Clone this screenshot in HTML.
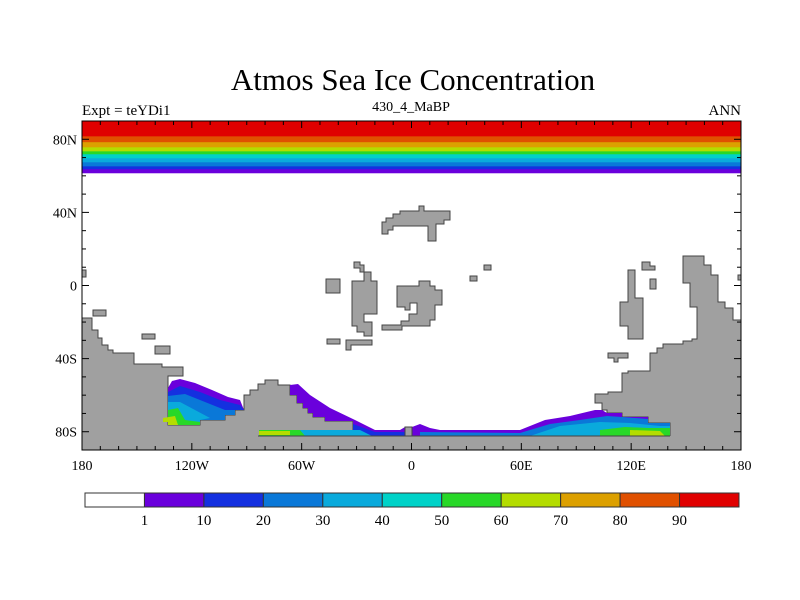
<!DOCTYPE html>
<html><head><meta charset="utf-8"><style>
body{margin:0;background:#fff;}
svg{display:block;font-family:"Liberation Serif",serif;}
</style></head><body>
<svg id="chart" width="800" height="600" viewBox="0 0 800 600">
<text x="413" y="90" font-size="31" text-anchor="middle">Atmos Sea Ice Concentration</text>
<text x="82" y="115" font-size="15">Expt = teYDi1</text>
<text x="411" y="111" font-size="14" text-anchor="middle">430_4_MaBP</text>
<text x="741" y="115" font-size="15" text-anchor="end">ANN</text>
<g id="plot"></g>
<g id="axes"></g>
<g id="cbar"></g>
</svg>
<script>
const levels = [1,10,20,30,40,50,60,70,80,90];
const colors = ["#ffffff","#6a00dc","#1430e0","#0a78d8","#0aaadc","#00d2c8","#28d828","#b4dc00","#dca000","#e05000","#e00000"];
// latitude where zonal-mean Arctic ice concentration drops below each level (1..90)
const bandLats = [61.4,63.6,65.2,67.4,69.6,71.8,73.4,75.6,78.4,81.6];
const lonTicks = [-180,-120,-60,0,60,120,180];
const lonLabels = ["180","120W","60W","0","60E","120E","180"];
const latTicks = [80,40,0,-40,-80];
const latLabels = ["80N","40N","0","40S","80S"];

const NS="http://www.w3.org/2000/svg";
const X0=82,X1=741,Y0=121,Y1=450;
const xs=lon=>X0+(lon+180)/360*(X1-X0);
const ys=lat=>Y1-(lat+90)/180*(Y1-Y0);
function mk(tag,attrs,parent){const e=document.createElementNS(NS,tag);for(const k in attrs)e.setAttribute(k,attrs[k]);parent.appendChild(e);return e;}
const plot=document.getElementById('plot');

for(let i=0;i<bandLats.length;i++){
  const r=mk('rect',{x:X0,y:ys(90),width:X1-X0,height:ys(bandLats[i])-ys(90),fill:colors[i+1]},plot);
  
  
}

const landStyle={fill:"#a0a0a0",stroke:"#444","stroke-width":1};
function poly(pts,name,style){const p=mk('polygon',Object.assign({points:pts},style),plot);
  
  return p;}
poly("82,318 92,318 92,330 98,330 98,338 102,338 102,345 108,345 108,350 113,350 113,353 134,353 134,364 162,364 162,367 183,367 183,376 168,376 168,425 200,425 200,420 225,420 225,415 235,415 235,410 244,410 244,395 250,395 250,390 258,390 258,384 265,384 265,380 278,380 278,385 290,385 290,395 297,395 297,403 303,403 303,408 308,408 308,413 313,413 313,417 325,417 325,421 353,421 353,436 405,436 405,427 412,427 412,436 670,436 670,423 648,423 648,417 622,417 622,413 607,413 607,410 602,410 602,403 595,403 595,394 608,394 608,392 622,392 622,373 628,373 628,371 650,371 650,353 657,353 657,348 663,348 663,344 683,344 683,341 692,341 692,339 697,339 697,307 690,307 690,283 683,283 683,256 704,256 704,265 711,265 711,275 718,275 718,302 725,302 725,308 733,308 733,320 741,320 741,450 82,450","southern-land",landStyle);

const ice=[
 ["168,388 172,381 180,379 195,383 212,390 228,397 240,400 244,410 235,410 235,415 225,415 225,420 200,420 200,425 168,425",1],
 ["168,392 180,386 200,392 220,400 240,405 244,410 235,410 235,415 225,415 225,420 200,420 200,425 168,425",2],
 ["168,396 185,394 205,402 225,410 235,410 235,415 225,415 225,420 200,420 200,425 168,425",3],
 ["168,402 180,402 195,410 210,418 200,420 200,425 168,425",4],
 ["168,410 178,408 185,420 200,422 200,425 168,425",6],
 ["163,418 175,416 178,425 168,425 168,422 163,422",7],
 ["290,385 298,384 310,395 330,408 355,420 375,430 400,430 405,427 412,427 412,436 353,436 353,421 325,421 325,417 313,417 313,413 308,413 308,408 303,408 303,403 297,403 297,395 290,395",1],
 ["353,424 375,432 405,432 405,436 353,436",2],
 ["259,430 360,430 372,436 259,436",4],
 ["259,430 300,430 305,436 259,436",6],
 ["259,431 290,431 290,435 259,435",7],
 ["412,427 420,424 430,428 440,430 520,430 545,420 570,416 595,410 602,410 607,413 622,413 622,417 648,417 648,423 670,423 670,436 412,436",1],
 ["420,432 520,433 550,424 580,420 607,416 622,417 648,419 648,423 670,423 670,436 420,436",3],
 ["530,436 560,426 600,422 630,423 660,426 670,426 670,436",4],
 ["600,430 625,427 648,428 670,428 670,436 600,436",6],
 ["630,430 660,431 665,436 630,436",7]
];
ice.forEach((d,i)=>{const p=poly(d[0],'antarctic-ice-region',{fill:colors[d[1]]});
  
  });

poly("405,436 405,427 412,427 412,436","land-prime-meridian",landStyle);
poly("82,436 741,436 741,450 82,450","land-antarctic-interior",{fill:"#a0a0a0"});
mk('line',{x1:258,y1:436,x2:670,y2:436,stroke:"#444","stroke-width":1},plot);

const islands=[
 "382,222 382,234 388,234 388,230 393,230 393,226 428,226 428,241 436,241 436,224 444,224 444,220 450,220 450,211 424,211 424,206 419,206 419,211 400,211 400,214 393,214 393,218 386,218 386,222",
 "354,262 354,268 360,268 360,272 364,272 364,281 352,281 352,326 357,326 357,332 364,332 364,336 372,336 372,322 364,322 364,314 377,314 377,281 371,281 371,272 364,272 364,265 360,265 360,262",
 "397,286 397,307 405,307 405,310 410,310 410,303 417,303 417,314 409,314 409,321 401,321 401,325 382,325 382,330 402,330 402,326 430,326 430,320 435,320 435,305 442,305 442,290 435,290 435,286 430,286 430,281 419,281 419,286",
 "326,279 340,279 340,293 326,293",
 "327,339 340,339 340,344 327,344",
 "346,340 372,340 372,345 351,345 351,350 346,350",
 "142,334 155,334 155,339 142,339",
 "155,346 170,346 170,354 155,354",
 "93,310 106,310 106,316 93,316",
 "82,270 86,270 86,277 82,277",
 "484,265 491,265 491,270 484,270",
 "470,276 477,276 477,281 470,281",
 "628,270 635,270 635,298 643,298 643,339 628,339 628,326 620,326 620,302 628,302",
 "642,262 650,262 650,266 655,266 655,270 642,270",
 "650,279 656,279 656,289 650,289",
 "608,353 628,353 628,358 618,358 618,362 614,362 614,358 608,358",
 "738,275 741,275 741,280 738,280"
];
islands.forEach((d,i)=>{const p=poly(d,'landmass',landStyle);
  
  });

const ax=document.getElementById('axes');
mk('rect',{x:X0,y:Y0,width:X1-X0,height:Y1-Y0,fill:"none",stroke:"#000","stroke-width":1},ax);
for(let lon=-180;lon<=180;lon+=10){
  const major=lon%60===0;const L=major?7:4;const x=xs(lon);
  mk('line',{x1:x,y1:Y1,x2:x,y2:Y1-L,stroke:"#000"},ax);
  mk('line',{x1:x,y1:Y0,x2:x,y2:Y0+L,stroke:"#000"},ax);
}
for(let lat=-90;lat<=90;lat+=10){
  const major=lat%40===0;const L=major?7:4;const y=ys(lat);
  mk('line',{x1:X0,y1:y,x2:X0+L,y2:y,stroke:"#000"},ax);
  mk('line',{x1:X1,y1:y,x2:X1-L,y2:y,stroke:"#000"},ax);
}
lonTicks.forEach((lon,i)=>{const t=mk('text',{x:xs(lon),y:Y1+20,"font-size":14,"text-anchor":"middle"},ax);t.textContent=lonLabels[i];
  
  });
latTicks.forEach((lat,i)=>{const t=mk('text',{x:X0-5,y:ys(lat)+5,"font-size":14,"text-anchor":"end"},ax);t.textContent=latLabels[i];
  
  });

const cb=document.getElementById('cbar');
const CX0=85,CX1=739,CY=493,CH=14,bw=(CX1-CX0)/colors.length;
colors.forEach((c,i)=>{const r=mk('rect',{x:CX0+i*bw,y:CY,width:bw,height:CH,fill:c,stroke:"#333","stroke-width":1},cb);
  
  });
levels.forEach((v,i)=>{const t=mk('text',{x:CX0+(i+1)*bw,y:CY+CH+18,"font-size":15,"text-anchor":"middle"},cb);t.textContent=v;
  
  });
</script>
</body></html>
